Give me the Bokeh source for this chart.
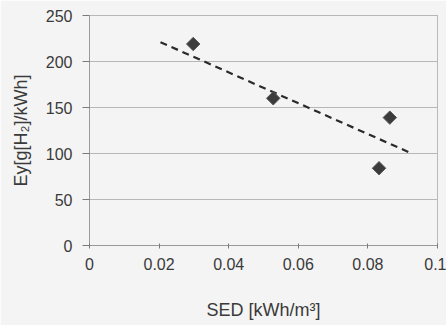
import math
from bokeh.plotting import figure
from bokeh.embed import file_html
from bokeh.resources import INLINE
from bokeh.models import FixedTicker, Range1d

# data
sed = [0.0298, 0.0528, 0.0832, 0.0863]
ey = [219, 160, 84, 139]
trend_x = [0.0204, 0.0928]
trend_y = [221, 99.7]
x_ticks = [0, 0.02, 0.04, 0.06, 0.08, 0.1]
y_ticks = [0, 50, 100, 150, 200, 250]

bg = "#f4f4f4"
txt = "#3a3a3a"
grid = "#7a7a7a"

p = figure(width=446, height=325, output_backend="svg", toolbar_location=None,
           x_range=Range1d(0, 0.1), y_range=Range1d(0, 250),
           min_border_left=89, min_border_right=9, min_border_top=15, min_border_bottom=80)
p.background_fill_color = bg
p.border_fill_color = bg
p.outline_line_color = grid
p.outline_line_dash = "1 1"
p.outline_line_width = 1

p.xgrid.grid_line_color = None
p.ygrid.grid_line_color = grid
p.ygrid.grid_line_dash = "1 1"
p.ygrid.grid_line_width = 1

p.xaxis.ticker = FixedTicker(ticks=x_ticks)
p.yaxis.ticker = FixedTicker(ticks=y_ticks)
p.xaxis.major_label_overrides = {0: "0", 0.1: "0.1"}

for ax in (p.xaxis[0], p.yaxis[0]):
    ax.axis_line_color = grid
    ax.axis_line_dash = "1 1"
    ax.major_tick_line_color = grid
    ax.minor_tick_line_color = None
    ax.major_label_text_font = "Liberation Sans"
    ax.major_label_text_font_size = "16px"
    ax.major_label_text_color = txt
    ax.axis_label_text_font = "Liberation Sans"
    ax.axis_label_text_font_size = "18px"
    ax.axis_label_text_font_style = "normal"
    ax.axis_label_text_color = txt

p.yaxis.major_tick_out = 7
p.yaxis.major_tick_in = 0
p.xaxis.major_tick_out = 3
p.xaxis.major_tick_in = 2

p.xaxis.axis_label = "SED [kWh/m³]"
p.yaxis.axis_label = "Ey[g[H₂]/kWh]"
p.xaxis.major_label_standoff = 9
p.xaxis.axis_label_standoff = 27
p.yaxis.major_label_standoff = 10
p.yaxis.axis_label_standoff = 12

p.line(trend_x, trend_y, line_color="#2a2a2a", line_width=2.2, line_dash="7 5")
p.scatter(sed, ey, marker="square", angle=math.pi / 4, size=9.5,
          fill_color="#3c3c3c", line_color="#555555", line_width=1)

open("out.html", "w").write(file_html(p, INLINE))
